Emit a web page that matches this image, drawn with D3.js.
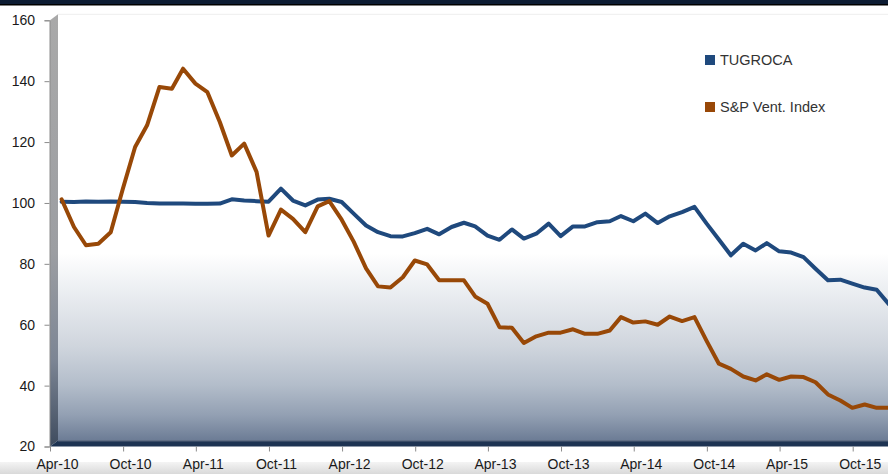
<!DOCTYPE html>
<html>
<head>
<meta charset="utf-8">
<script src="https://cdn.jsdelivr.net/npm/d3@7"></script>
<style>
  body { margin: 0; background: #fff; }
  svg { display: block; font-family: "Liberation Sans", Arial, sans-serif; }
</style>
</head>
<body>
<div id="chart"></div>
<script>

// monthly observations, plotted at month end
var months = [
  "Apr-10","May-10","Jun-10","Jul-10","Aug-10","Sep-10","Oct-10","Nov-10","Dec-10",
  "Jan-11","Feb-11","Mar-11","Apr-11","May-11","Jun-11","Jul-11","Aug-11","Sep-11","Oct-11","Nov-11","Dec-11",
  "Jan-12","Feb-12","Mar-12","Apr-12","May-12","Jun-12","Jul-12","Aug-12","Sep-12","Oct-12","Nov-12","Dec-12",
  "Jan-13","Feb-13","Mar-13","Apr-13","May-13","Jun-13","Jul-13","Aug-13","Sep-13","Oct-13","Nov-13","Dec-13",
  "Jan-14","Feb-14","Mar-14","Apr-14","May-14","Jun-14","Jul-14","Aug-14","Sep-14","Oct-14","Nov-14","Dec-14",
  "Jan-15","Feb-15","Mar-15","Apr-15","May-15","Jun-15","Jul-15","Aug-15","Sep-15","Oct-15","Nov-15","Dec-15"
];

var tugroca = [
  100.4, 100.3, 100.5, 100.4, 100.5, 100.4, 100.3, 100.0, 99.8,
  99.8, 99.8, 99.7, 99.7, 99.8, 101.2, 100.8, 100.6, 100.4, 104.7, 100.8, 99.2,
  101.1, 101.4, 100.3, 96.5, 92.6, 90.4, 89.1, 89.0, 90.1, 91.5, 89.7, 92.1,
  93.5, 92.3, 89.3, 87.9, 91.3, 88.3, 89.9, 93.2, 89.1, 92.3, 92.3, 93.7,
  94.0, 95.7, 94.0, 96.5, 93.4, 95.6, 97.0, 98.7, 93.3, 88.0, 82.8, 86.6,
  84.4, 86.8, 84.1, 83.7, 82.2, 78.4, 74.6, 74.8, 73.5, 72.2, 71.5, 66.7
];

var spVent = [
  101.2, 92.1, 86.1, 86.6, 90.4, 104.5, 118.4, 125.5, 138.1,
  137.5, 144.1, 139.2, 136.4, 126.6, 115.6, 119.5, 110.2, 89.3, 97.8, 94.8, 90.4,
  98.9, 100.6, 94.5, 87.3, 78.5, 72.6, 72.2, 75.6, 81.1, 79.8, 74.6, 74.6,
  74.6, 69.3, 66.9, 59.2, 59.0, 54.0, 56.2, 57.4, 57.4, 58.5, 57.0, 57.0,
  58.1, 62.5, 60.7, 61.1, 60.0, 62.7, 61.2, 62.5, 54.8, 47.2, 45.5, 43.0,
  41.7, 43.7, 41.9, 43.0, 42.8, 41.1, 37.1, 35.1, 32.7, 33.8, 32.7, 32.7
];

var seriesNames = ["TUGROCA", "S&P Vent. Index"];
var seriesColors = ["#1F497D", "#984807"];

var xTickLabels = ["Apr-10","Oct-10","Apr-11","Oct-11","Apr-12","Oct-12",
                   "Apr-13","Oct-13","Apr-14","Oct-14","Apr-15","Oct-15"];
var yTicks = [20, 40, 60, 80, 100, 120, 140, 160];


var width = 888, height = 474;
var depthX = 8, depthY = -6;   // 3d offset of the back wall

var parseMonth = d3.timeParse("%b-%y");
var monthEnd = function(s) {
    return d3.timeDay.offset(d3.timeMonth.offset(parseMonth(s), 1), -1);
};

var x = d3.scaleTime()
    .domain([parseMonth("Apr-10"), parseMonth("Oct-15")])
    .range([50, 852.7]);
var y = d3.scaleLinear().domain([20, 160]).range([446.5, 20.3]);

var svg = d3.select("#chart").append("svg")
    .attr("width", width)
    .attr("height", height);

var defs = svg.append("defs");

var wallGrad = defs.append("linearGradient")
    .attr("id", "wallGrad").attr("x1", 0).attr("y1", 0).attr("x2", 0).attr("y2", 1);
[[0, "#ffffff"], [0.56, "#ffffff"], [0.66, "#e9ecf0"], [0.78, "#cfd5dd"],
 [0.87, "#b3bdca"], [0.94, "#93a0b3"], [1, "#6c7c95"]].forEach(function(s) {
    wallGrad.append("stop").attr("offset", s[0]).attr("stop-color", s[1]);
});

var sideGrad = defs.append("linearGradient")
    .attr("id", "sideGrad").attr("x1", 0).attr("y1", 0).attr("x2", 0).attr("y2", 1);
[[0, "#a9a9a9"], [0.55, "#9c9ea2"], [0.8, "#7c8594"], [1, "#3e4b5e"]].forEach(function(s) {
    sideGrad.append("stop").attr("offset", s[0]).attr("stop-color", s[1]);
});

var bandGrad = defs.append("linearGradient")
    .attr("id", "bandGrad").attr("x1", 0).attr("y1", 0).attr("x2", 0).attr("y2", 1);
bandGrad.append("stop").attr("offset", 0).attr("stop-color", "#f4f4f4");
bandGrad.append("stop").attr("offset", 1).attr("stop-color", "#d9d9d9");

// top frame bar
svg.append("rect").attr("x", 0).attr("y", 0).attr("width", width).attr("height", 4)
    .attr("fill", "#0d1c33");
svg.append("rect").attr("x", 0).attr("y", 4).attr("width", width).attr("height", 1.5)
    .attr("fill", "#000");

// bottom band
svg.append("rect").attr("x", 0).attr("y", 462).attr("width", width).attr("height", 12)
    .attr("fill", "url(#bandGrad)");

var x0 = x.range()[0], yTop = y(160), yBot = y(20);

// back wall
svg.append("rect")
    .attr("x", x0 + depthX)
    .attr("y", yTop + depthY)
    .attr("width", width - x0 - depthX)
    .attr("height", yBot - yTop)
    .attr("fill", "url(#wallGrad)");
svg.append("line")
    .attr("x1", x0 + depthX).attr("x2", width)
    .attr("y1", yTop + depthY).attr("y2", yTop + depthY)
    .attr("stroke", "#eeeeee");

// side wall
svg.append("polygon")
    .attr("points", [[x0, yTop], [x0 + depthX, yTop + depthY],
                     [x0 + depthX, yBot + depthY], [x0, yBot]].join(" "))
    .attr("fill", "url(#sideGrad)");

// floor
svg.append("polygon")
    .attr("points", [[x0, yBot], [x0 + depthX, yBot + depthY],
                     [width, yBot + depthY], [width, yBot]].join(" "))
    .attr("fill", "#1d3352");
svg.append("line")
    .attr("x1", x0 + depthX).attr("x2", width)
    .attr("y1", yBot + depthY + 0.5).attr("y2", yBot + depthY + 0.5)
    .attr("stroke", "#56657a");

// axes
var yAxis = svg.append("g")
    .attr("transform", "translate(" + (x0 - 0.5) + ",0)")
    .call(d3.axisLeft(y).tickValues(yTicks).tickSize(5).tickPadding(9.5));
yAxis.select(".domain").attr("stroke", "#8c8c8c");

var xAxis = svg.append("g")
    .attr("transform", "translate(0," + yBot + ")")
    .call(d3.axisBottom(x)
          .tickValues(xTickLabels.map(parseMonth))
          .tickFormat(d3.timeFormat("%b-%y"))
          .tickSize(5).tickPadding(7.5));
xAxis.select(".domain").remove();
xAxis.selectAll("text").attr("dx", 7);

svg.selectAll(".tick line").attr("stroke", "#8c8c8c");
svg.selectAll(".tick text")
    .attr("fill", "#1a1a1a")
    .style("font-family", "'Liberation Sans', Arial, sans-serif")
    .style("font-size", "14px");

// series
var line = d3.line()
    .x(function(d) { return x(d.date); })
    .y(function(d) { return y(d.value); });

[tugroca, spVent].forEach(function(values, k) {
    var pts = months.map(function(m, i) { return {date: monthEnd(m), value: values[i]}; });
    svg.append("path")
        .datum(pts)
        .attr("fill", "none")
        .attr("stroke", seriesColors[k])
        .attr("stroke-width", 4)
        .attr("stroke-linejoin", "round")
        .attr("stroke-linecap", "round")
        .attr("d", line);
});

// legend
var legend = svg.append("g").attr("transform", "translate(705,55)");
seriesNames.forEach(function(name, k) {
    var g = legend.append("g").attr("transform", "translate(0," + (k * 47) + ")");
    g.append("rect").attr("width", 10).attr("height", 10).attr("fill", seriesColors[k]);
    g.append("text")
        .attr("x", 15).attr("y", 10)
        .attr("fill", "#333333")
        .style("font-size", "14.5px")
        .text(name);
});

</script>
</body>
</html>
